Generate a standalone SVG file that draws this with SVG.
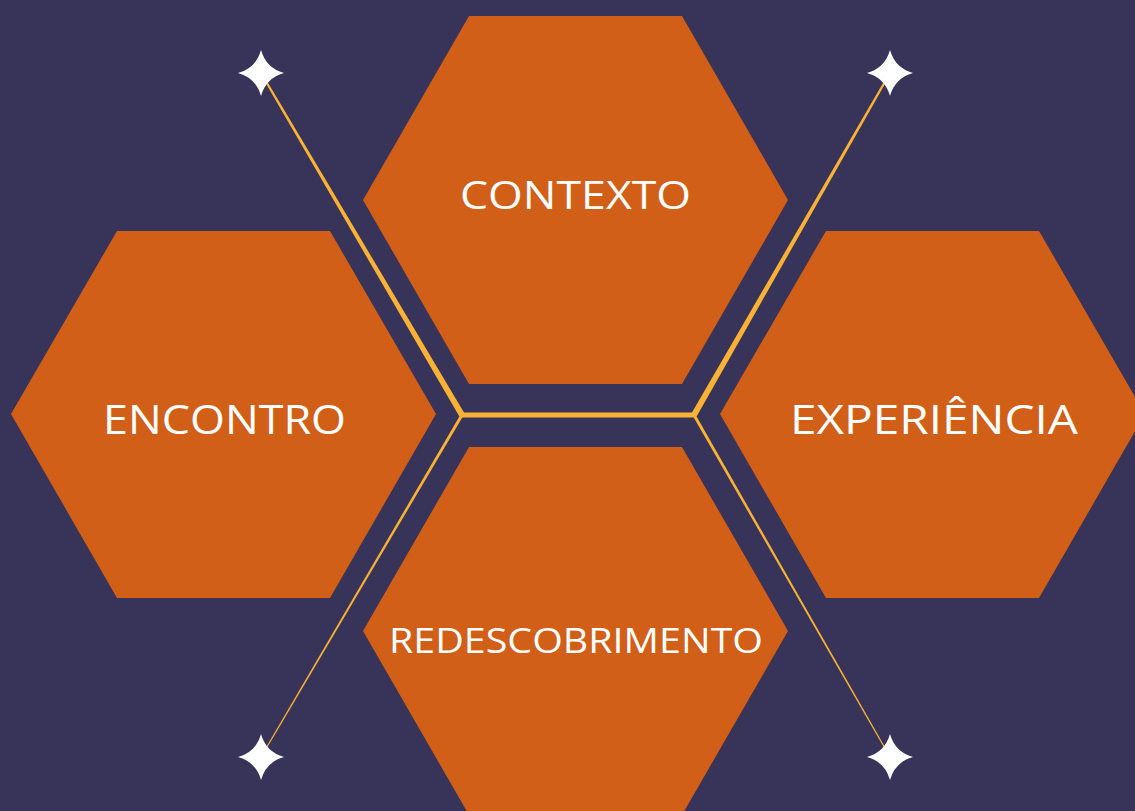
<svg xmlns="http://www.w3.org/2000/svg" width="1135" height="811" viewBox="0 0 1135 811">
<style>
.hex{fill:#d25f18}
.lbl{fill:#ffffff;font-family:"Open Sans","Liberation Sans",sans-serif;text-anchor:middle}
.gold{fill:#f9b233}
.star{fill:#ffffff}
</style>
<defs>
<path id="star" d="M0,-23 Q5,-5 23,0 Q5,5 0,23 Q-5,5 -23,0 Q-5,-5 0,-23 Z"/>
</defs>
<rect width="1135" height="811" fill="#383358"/>
<g id="node-contexto">
<polygon class="hex" points="469,16 682,16 788,200 682,384 469,384 363,200"/>
<text class="lbl" x="575.5" y="209" font-size="39" textLength="231" lengthAdjust="spacingAndGlyphs">CONTEXTO</text>
</g>
<g id="node-encontro">
<polygon class="hex" points="117,231 330,231 436,414 330,598 117,598 11,414"/>
<text class="lbl" x="224.5" y="434" font-size="40" textLength="243" lengthAdjust="spacingAndGlyphs">ENCONTRO</text>
</g>
<g id="node-experiencia">
<polygon class="hex" points="826,231 1039,231 1145,414 1039,598 826,598 720,414"/>
<text class="lbl" x="934" y="434" font-size="40" textLength="288" lengthAdjust="spacingAndGlyphs">EXPERIÊNCIA</text>
</g>
<g id="node-redescobrimento">
<polygon class="hex" points="469,447 682,447 788,631 682,815 469,815 363,631"/>
<text class="lbl" x="576" y="653" font-size="35" textLength="374" lengthAdjust="spacingAndGlyphs">REDESCOBRIMENTO</text>
</g>
<g id="connectors">
<rect class="gold" x="460" y="412.5" width="236" height="5"/>
<polygon class="gold" points="464.6,413.4 261.9,72.5 260.1,73.5 459.4,416.6"/>
<polygon class="gold" points="696.6,416.6 890.9,73.5 889.1,72.5 691.4,413.4"/>
<polygon class="gold" points="463.3,415.8 261.5,757.3 260.5,756.7 460.7,414.2"/>
<polygon class="gold" points="695.3,414.3 890.5,756.7 889.5,757.3 692.7,415.7"/>
</g>
<g id="stars">
<use href="#star" class="star" x="261" y="73"/>
<use href="#star" class="star" x="890" y="73"/>
<use href="#star" class="star" x="261" y="757"/>
<use href="#star" class="star" x="890" y="757"/>
</g>
</svg>
